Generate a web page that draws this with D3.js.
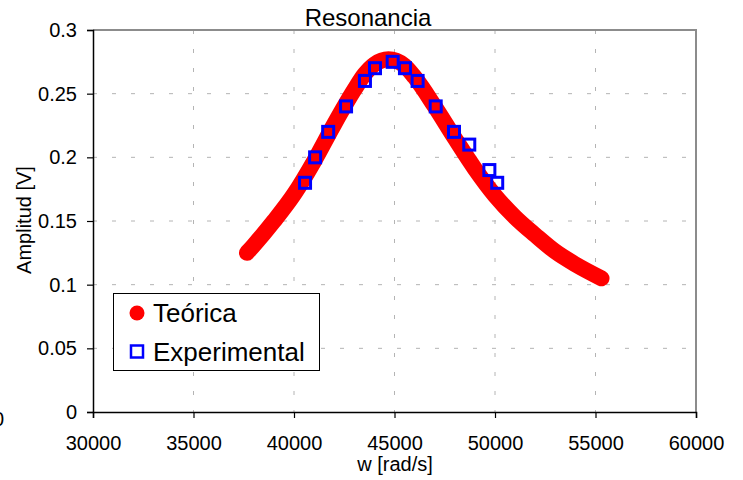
<!DOCTYPE html>
<html>
<head>
<meta charset="utf-8">
<script src="https://cdn.jsdelivr.net/npm/d3@7"></script>
<style>
  body { margin: 0; background: #fff; }
  svg { font-family: Arial, "Liberation Sans", sans-serif; }
</style>
</head>
<body>
<div id="chart"></div>
<script>
// curve (w, amplitude)
let teoW = [37660, 38000, 39000, 40000, 41000, 42000, 43000, 43500, 44000, 44700,
            45500, 46000, 47000, 48000, 49000, 50000, 51000, 52000, 53000, 54000, 55300];
let teoA = [0.125, 0.131, 0.150, 0.171, 0.197, 0.226, 0.253, 0.265, 0.273, 0.277,
            0.272, 0.263, 0.240, 0.215, 0.191, 0.170, 0.153, 0.139, 0.126, 0.116, 0.105];

// measured points
let expW = [40550, 41050, 41700, 42590, 43530, 44030, 44910, 45520, 46150, 47050, 47960, 48720, 49720, 50110];
let expA = [0.18, 0.20, 0.22, 0.24, 0.26, 0.27, 0.275, 0.27, 0.26, 0.24, 0.22, 0.21, 0.19, 0.18];

let xTicks = [30000, 35000, 40000, 45000, 50000, 55000, 60000];
let yTicks = [0, 0.05, 0.1, 0.15, 0.2, 0.25, 0.3];
let legendLabels = ["Teórica", "Experimental"];

let width = 743;
let height = 480;
let plotL = 93, plotR = 696, plotT = 30, plotB = 412;

let svg = d3.select("#chart").append("svg").attr("width", width).attr("height", height);

let x = d3.scaleLinear().domain([30000, 60000]).range([plotL, plotR]);
let y = d3.scaleLinear().domain([0, 0.3]).range([plotB, plotT]);

// dashed grid
svg.append("g").selectAll("line").data(yTicks.slice(1, -1)).join("line")
  .attr("x1", plotL).attr("x2", plotR)
  .attr("y1", d => y(d)).attr("y2", d => y(d))
  .style("stroke", "#b4b4b4").style("stroke-width", 1).style("stroke-dasharray", "4,15");
svg.append("g").selectAll("line").data(xTicks.slice(1, -1)).join("line")
  .attr("y1", plotT).attr("y2", plotB)
  .attr("x1", d => x(d)).attr("x2", d => x(d))
  .style("stroke", "#b4b4b4").style("stroke-width", 1).style("stroke-dasharray", "4,15");

// top and right border
svg.append("path").attr("d", `M${plotL},${plotT}H${plotR}V${plotB}`)
  .style("fill", "none").style("stroke", "#8c8c8c").style("stroke-width", 2);

// axes
let xAxis = svg.append("g").attr("transform", `translate(0,${plotB})`)
  .call(d3.axisBottom(x).tickValues(xTicks).tickFormat(d3.format("d")).tickSize(6).tickPadding(18));
let yAxis = svg.append("g").attr("transform", `translate(${plotL},0)`)
  .call(d3.axisLeft(y).tickValues(yTicks).tickFormat(d => String(+d.toFixed(2))).tickSize(6).tickPadding(10));
[xAxis, yAxis].forEach(a => {
  a.select(".domain").style("stroke", "#000").style("stroke-width", 1.5);
  a.selectAll(".tick line").style("stroke", "#000").style("stroke-width", 1.2);
  a.selectAll("text").style("font-size", "20px").style("fill", "#000")
    .style("font-family", "Arial, 'Liberation Sans', sans-serif");
});

// theoretical curve (thick red)
let teo = teoW.map((w, i) => [w, teoA[i]]);
let lineGenerator = d3.line().x(d => x(d[0])).y(d => y(d[1])).curve(d3.curveMonotoneX);
svg.append("path").attr("d", lineGenerator(teo))
  .style("fill", "none").style("stroke", "#ff0000").style("stroke-width", 16)
  .style("stroke-linecap", "round").style("stroke-linejoin", "round");

// experimental squares
svg.append("g").selectAll("rect").data(expW.map((w, i) => [w, expA[i]])).join("rect")
  .attr("x", d => x(d[0]) - 5.5).attr("y", d => y(d[1]) - 5.5)
  .attr("width", 11).attr("height", 11)
  .style("fill", "none").style("stroke", "#0000ff").style("stroke-width", 3);

// titles
svg.append("text").attr("x", 368).attr("y", 26).attr("text-anchor", "middle")
  .style("font-size", "24px").text("Resonancia");
svg.append("text").attr("x", 395).attr("y", 471).attr("text-anchor", "middle")
  .style("font-size", "20px").text("w [rad/s]");
svg.append("text").attr("transform", "translate(31,220) rotate(-90)").attr("text-anchor", "middle")
  .style("font-size", "20px").text("Amplitud [V]");
svg.append("text").attr("x", -7).attr("y", 426).style("font-size", "20px").text("0");

// legend
let lg = svg.append("g");
lg.append("rect").attr("x", 113.5).attr("y", 293.5).attr("width", 206).attr("height", 77)
  .style("fill", "#fff").style("stroke", "#000").style("stroke-width", 1);
lg.append("circle").attr("cx", 137).attr("cy", 313).attr("r", 7.5).style("fill", "#ff0000");
lg.append("rect").attr("x", 131).attr("y", 345.5).attr("width", 12).attr("height", 12)
  .style("fill", "none").style("stroke", "#0000ff").style("stroke-width", 2.5);
lg.selectAll("text.lab").data(legendLabels).join("text").attr("class", "lab")
  .attr("x", 153).attr("y", (d, i) => 322 + i * 39)
  .style("font-size", "26px").text(d => d);
</script>
</body>
</html>
